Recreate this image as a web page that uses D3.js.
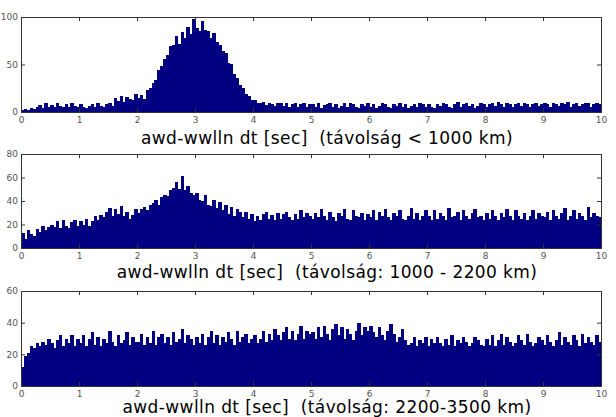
<!DOCTYPE html>
<html><head><meta charset="utf-8">
<script src="https://cdn.jsdelivr.net/npm/d3@7"></script>
<style>body{margin:0;background:#fff}</style>
</head><body>
<svg width="616" height="417"></svg>
<script>
// bin counts, 20 bins per second (0..10 s)
var near = [
 2,3,2,4,3,5,7,4,9,5,7,5,9,6,5,8,5,9,6,5,
 8,5,4,6,8,5,9,6,5,8,9,6,15,12,17,11,16,14,13,19,
 15,18,14,23,25,31,34,44,48,56,60,70,71,80,72,84,78,90,82,98,
 88,85,96,86,85,78,83,74,71,64,62,52,51,40,36,28,25,19,17,13,
 13,9,10,11,7,10,8,6,9,10,6,9,5,8,9,5,8,9,5,8,
 8,5,9,4,7,8,9,5,8,4,6,9,5,9,8,5,4,8,6,10,
 5,8,4,6,9,8,5,4,8,6,9,5,8,4,6,8,5,10,8,5,
 8,5,4,8,6,9,8,5,4,8,11,5,8,9,6,8,4,6,9,8,
 5,8,9,6,11,8,5,9,8,5,8,10,6,9,8,5,8,9,6,8,
 9,8,5,10,8,6,9,8,11,5,8,9,6,8,10,9,5,8,9,8
];
var mid = [
 13,8,15,12,10,16,14,19,15,18,20,18,23,17,24,19,17,22,24,19,
 23,20,25,19,23,27,24,28,26,31,34,27,33,29,36,27,31,25,28,33,
 30,33,35,32,37,38,41,37,43,45,44,49,51,56,50,61,49,53,47,45,
 47,41,40,45,37,36,41,34,39,32,37,29,35,27,33,31,26,31,25,29,
 23,27,24,29,31,25,28,24,30,25,29,31,26,24,29,25,32,26,30,27,
 25,30,26,33,27,24,31,26,23,30,27,33,25,24,32,27,26,30,24,29,
 26,32,24,31,27,33,26,24,30,27,32,25,24,27,34,25,30,24,27,32,
 27,24,32,25,30,27,24,34,26,27,31,24,32,27,25,30,33,26,27,24,
 30,25,32,27,24,30,26,33,27,24,32,27,25,30,24,27,32,25,30,27,
 26,31,24,32,27,25,30,34,24,27,32,25,30,27,24,35,26,30,27,26
];
var far = [
 12,19,21,25,24,27,25,28,26,30,27,24,29,32,25,30,27,32,25,30,
 27,32,25,30,34,26,31,25,30,27,35,28,25,32,27,29,34,26,31,28,
 28,33,26,31,27,35,26,31,33,27,31,26,34,28,30,36,27,32,30,26,
 31,27,33,26,31,35,27,32,26,31,28,34,30,26,35,28,31,33,27,30,
 32,27,30,35,28,33,29,36,32,29,34,37,30,35,29,33,38,30,35,33,
 34,30,37,31,38,33,29,36,39,32,37,30,36,33,29,35,40,32,37,35,
 38,34,31,37,32,29,35,39,33,28,31,36,29,26,27,31,25,29,27,31,
 25,30,27,31,27,25,30,26,32,25,29,27,31,28,25,27,31,29,26,25,
 30,26,32,25,29,33,26,31,28,25,27,32,29,26,33,28,25,27,31,29,
 26,32,28,25,29,34,26,31,28,26,32,29,25,33,27,31,28,26,32,28
];
var xTicks = [0,1,2,3,4,5,6,7,8,9,10];

var panels = [
  {data: near, ymax: 100, yTicks: [0,50,100], top: 17, bottom: 112, labelY: 144,
   label: "awd-wwlln dt [sec]  (távolság < 1000 km)"},
  {data: mid, ymax: 80, yTicks: [0,20,40,60,80], top: 154, bottom: 248, labelY: 278,
   label: "awd-wwlln dt [sec]  (távolság: 1000 - 2200 km)"},
  {data: far, ymax: 60, yTicks: [0,20,40,60], top: 291, bottom: 386, labelY: 413,
   label: "awd-wwlln dt [sec]  (távolság: 2200-3500 km)"}
];

var svg = d3.select("svg");
var x = d3.scaleLinear().domain([0, 10]).range([21, 601]);
var binW = 10 / near.length;

panels.forEach(function(p) {
  var y = d3.scaleLinear().domain([0, p.ymax]).range([p.bottom, p.top]);
  var g = svg.append("g");

  g.selectAll("rect").data(p.data).enter().append("rect")
    .attr("x", function(d, i) { return x(i * binW); })
    .attr("width", x(binW) - x(0) + 0.6)
    .attr("y", function(d) { return y(d); })
    .attr("height", function(d) { return p.bottom - y(d); })
    .attr("fill", "#000080")
    .attr("shape-rendering", "crispEdges");

  var xa = g.append("g").attr("transform", "translate(0," + p.bottom + ")")
    .call(d3.axisBottom(x).tickValues(xTicks).tickSize(-4).tickPadding(5));
  var xt = g.append("g").attr("transform", "translate(0," + p.top + ")")
    .call(d3.axisTop(x).tickValues(xTicks).tickSize(-4).tickFormat(""));
  var ya = g.append("g").attr("transform", "translate(21,0)")
    .call(d3.axisLeft(y).tickValues(p.yTicks).tickSize(-4).tickPadding(3));
  var yr = g.append("g").attr("transform", "translate(601,0)")
    .call(d3.axisRight(y).tickValues(p.yTicks).tickSize(-4).tickFormat(""));
  [xa, xt, ya, yr].forEach(function(a) {
    a.selectAll("path,line").attr("stroke", "#333");
    a.selectAll("text").attr("fill", "#555").style("font-family", "DejaVu Sans").style("font-size", "9px");
  });

  // the caption sits over the tick labels in the bottom panel, same as the original
  svg.append("text").attr("x", 327).attr("y", p.labelY).attr("text-anchor", "middle")
    .style("font-family", "DejaVu Sans").style("font-size", "17px")
    .style("white-space", "pre")
    .style("letter-spacing", "0.4px").text(p.label);
});
</script>
</body></html>
